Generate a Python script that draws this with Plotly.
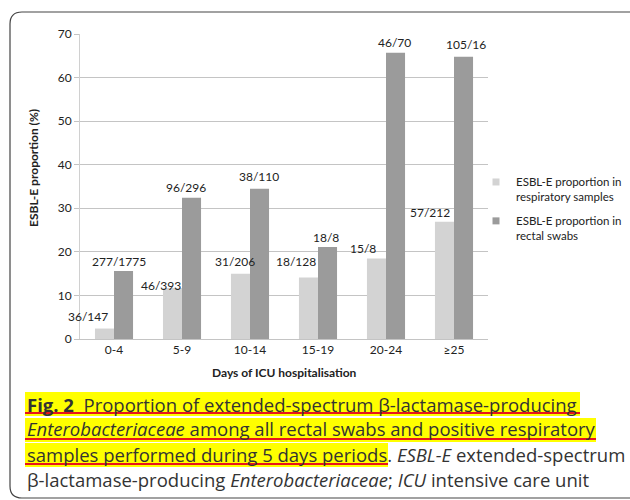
import plotly.graph_objects as go

# ---------------- data ----------------
categories = ["0-4", "5-9", "10-14", "15-19", "20-24", "≥25"]
resp_values = [2.4, 11.7, 15.0, 14.1, 18.5, 26.9]
rectal_values = [15.6, 32.4, 34.5, 21.1, 65.7, 64.8]
resp_labels = ["36/147", "46/393", "31/206", "18/128", "15/8", "57/212"]
rectal_labels = ["277/1775", "96/296", "38/110", "18/8", "46/70", "105/16"]
series_names = ["ESBL-E proportion in<br>respiratory samples",
                "ESBL-E proportion in<br>rectal swabs"]
y_ticks = [0, 10, 20, 30, 40, 50, 60, 70]

# ---------------- style / layout ----------------
W, H = 630, 500
L, R, T, B = 80, 142, 34, 161
PW, PH = W - L - R, H - T - B
LIGHT = "#d3d3d3"
DARK = "#9b9b9b"
GRID = "#c4c4c4"
CHART_FONT = "Lato, 'Open Sans', sans-serif"
CAP_FONT = "'Open Sans', 'Noto Sans', sans-serif"

def px(xp):
    return (xp - L) / PW

def py(yp):
    return (H - B - yp) / PH

# label nudges (pixels) relative to category centre / bar top
resp_dx = [-26, -21, -15.5, -22, -23, -24]
resp_dy = [12, 3, 12, 16, 10, 9]
rect_dx = [4.5, 3.5, 9, 8, 8.5, 12]
rect_dy = [10, 10, 12, 10, 10, 12]

fig = go.Figure()
fig.add_trace(go.Bar(x=categories, y=resp_values, marker_color=LIGHT,
                     marker_line_width=0, showlegend=False, hoverinfo="skip"))
fig.add_trace(go.Bar(x=categories, y=rectal_values, marker_color=DARK,
                     marker_line_width=0, showlegend=False, hoverinfo="skip"))
# legend entries (small squares)
for k, (name, col) in enumerate(zip(series_names, [LIGHT, DARK])):
    fig.add_trace(go.Scatter(x=[None], y=[None], mode="markers", name=name,
                             legendgroup=f"g{k}",
                             marker=dict(symbol="square", size=7, color=col)))

ann = []
for i, c in enumerate(categories):
    ann.append(dict(x=c, y=resp_values[i], xref="x", yref="y", text=resp_labels[i],
                    showarrow=False, xshift=resp_dx[i], yshift=resp_dy[i],
                    yanchor="middle", font=dict(family=CHART_FONT, size=12, color="#222")))
    ann.append(dict(x=c, y=rectal_values[i], xref="x", yref="y", text=rectal_labels[i],
                    showarrow=False, xshift=rect_dx[i], yshift=rect_dy[i],
                    yanchor="middle", font=dict(family=CHART_FONT, size=12, color="#222")))

# axis titles
ann.append(dict(x=px(33), y=py(168), xref="paper", yref="paper", textangle=-90,
                xanchor="center", yanchor="middle",
                text="<b>ESBL-E proportion (%)</b>", showarrow=False,
                font=dict(family=CHART_FONT, size=12, color="#222")))
ann.append(dict(x=px(284), y=py(372), xref="paper", yref="paper",
                xanchor="center", yanchor="middle",
                text="<b>Days of ICU hospitalisation</b>", showarrow=False,
                font=dict(family=CHART_FONT, size=12, color="#222")))

# caption
cap_lines = [
    "<b>Fig. 2</b>\u00a0\u00a0Proportion of extended-spectrum β-lactamase-producing",
    "<i>Enterobacteriaceae</i> among all rectal swabs and positive respiratory",
    "samples performed during 5 days periods. <i>ESBL-E</i> extended-spectrum",
    "β-lactamase-producing <i>Enterobacteriaceae</i>; <i>ICU</i> intensive care unit",
]
cap_y = [404, 429, 454, 479]
for t, yy in zip(cap_lines, cap_y):
    ann.append(dict(x=px(25), y=py(yy), xref="paper", yref="paper", text=t,
                    showarrow=False, xanchor="left", yanchor="middle",
                    font=dict(family=CAP_FONT, size=18.5, color="#333")))

shapes = []
# yellow highlights + red underlines
hl = [(25, 580, 392, 416), (25, 596, 418, 442), (25, 388, 443, 467)]
for x0, x1, y0, y1 in hl:
    shapes.append(dict(type="rect", xref="paper", yref="paper",
                       x0=px(x0), x1=px(x1), y0=py(y0), y1=py(y1),
                       fillcolor="#ffff00", line_width=0, layer="below"))
    shapes.append(dict(type="line", xref="paper", yref="paper",
                       x0=px(x0), x1=px(x1), y0=py(y1 - 3), y1=py(y1 - 3),
                       line=dict(color="#e8141b", width=2)))
# rounded frame
r = 12
path = (f"M {px(10)},{py(12 + r)} Q {px(10)},{py(12)} {px(10 + r)},{py(12)} "
        f"L {px(660)},{py(12)} L {px(660)},{py(498)} L {px(10 + r)},{py(498)} "
        f"Q {px(10)},{py(498)} {px(10)},{py(498 - r)} Z")
shapes.append(dict(type="path", xref="paper", yref="paper", path=path,
                   line=dict(color="#444", width=1.2), fillcolor="rgba(0,0,0,0)"))

fig.update_layout(
    width=W, height=H, autosize=False,
    margin=dict(l=L, r=R, t=T, b=B, autoexpand=False),
    paper_bgcolor="white", plot_bgcolor="white",
    barmode="group", bargap=0.44, bargroupgap=0,
    font=dict(family=CHART_FONT, size=12, color="#222"),
    showlegend=True,
    legend=dict(x=476 / W, y=1 - 168 / H, xanchor="left", yanchor="top",
                xref="container", yref="container", valign="top",
                font=dict(family=CHART_FONT, size=11.5, color="#222"),
                tracegroupgap=6, itemwidth=30, bgcolor="rgba(0,0,0,0)"),
    annotations=ann, shapes=shapes,
)
fig.update_xaxes(type="category", showline=True, linecolor=GRID, linewidth=1,
                 ticks="", showgrid=False, tickfont=dict(size=12, family=CHART_FONT),
                 range=[-0.5, 5.5], fixedrange=True)
fig.update_yaxes(range=[0, 70], tickvals=y_ticks, showgrid=True, gridcolor=GRID,
                 gridwidth=1, showline=True, linecolor="#d0d0d0", linewidth=1,
                 ticks="outside", ticklen=5, tickcolor=GRID, zeroline=False,
                 tickfont=dict(size=12, family=CHART_FONT), fixedrange=True)

fig.write_html("out.html", config={"displayModeBar": False},
               post_script="document.body.style.margin='0';document.body.style.overflow='hidden';")
